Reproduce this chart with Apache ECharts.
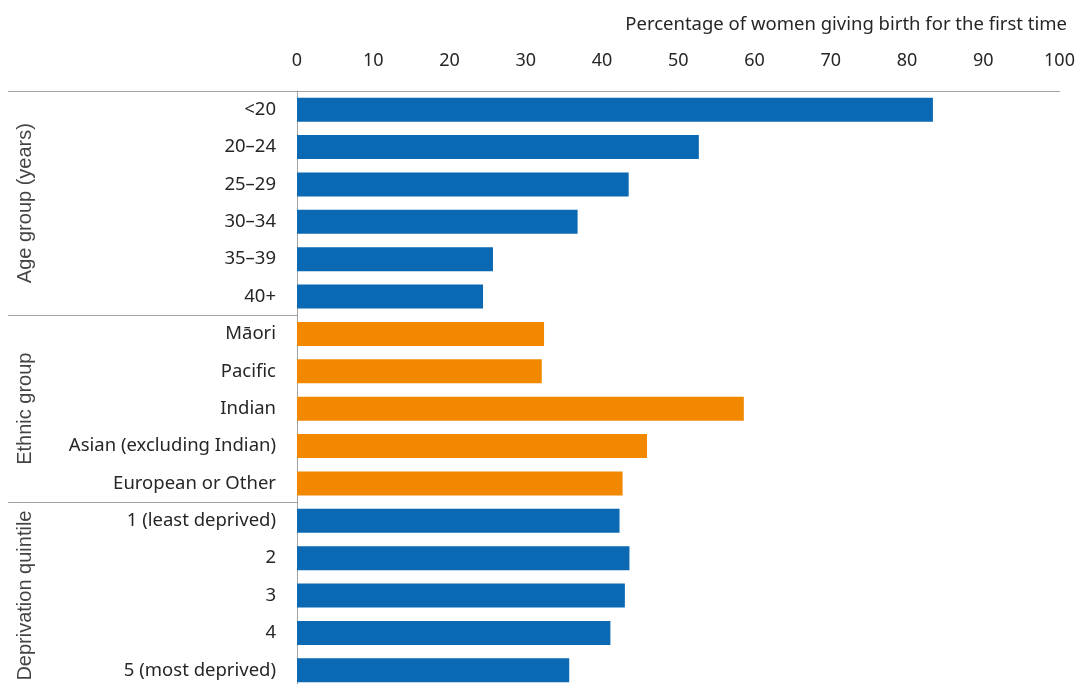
<!DOCTYPE html>
<html>
<head>
<meta charset="utf-8">
<script src="https://cdn.jsdelivr.net/npm/echarts@6/dist/echarts.min.js"></script>
<style>
  html, body { margin: 0; padding: 0; background: #fff; }
  #chart { width: 1079px; height: 684px; }
</style>
</head>
<body>
<div id="chart"></div>
<script>
// 数据
var ageLabels = ['<20', '20–24', '25–29', '30–34', '35–39', '40+']
var ageValues = [83.4, 52.7, 43.5, 36.8, 25.7, 24.4]
var ethnicLabels = ['Māori', 'Pacific', 'Indian', 'Asian (excluding Indian)', 'European or Other']
var ethnicValues = [32.4, 32.1, 58.6, 45.9, 42.7]
var deprivLabels = ['1 (least deprived)', '2', '3', '4', '5 (most deprived)']
var deprivValues = [42.3, 43.6, 43.0, 41.1, 35.7]
var groupNames = ['Age group (years)', 'Ethnic group', 'Deprivation quintile']
var xMin = 0
var xMax = 100
var xStep = 10

var groups = [
  { name: groupNames[0], labels: ageLabels, values: ageValues, color: '#0b69b3' },
  { name: groupNames[1], labels: ethnicLabels, values: ethnicValues, color: '#f18800' },
  { name: groupNames[2], labels: deprivLabels, values: deprivValues, color: '#0b69b3' }
]

var categories = []
var barData = []
var boundaries = [] // 分组分隔线
var groupTitles = []
var count = 0
groups.forEach(function (g) {
  boundaries.push(count)
  groupTitles.push({ value: [0, count + g.labels.length / 2], name: g.name })
  g.labels.forEach(function (l, i) {
    categories.push(l)
    barData.push({ value: g.values[i], itemStyle: { color: g.color } })
  })
  count += g.labels.length
})

var font = 'Noto Sans'
var fontSize = 18.5
var textColor = '#262626'
var lineColor = '#a3a3a3'

var chart = echarts.init(document.getElementById('chart'))
var option = {
  animation: false,
  title: {
    text: 'Percentage of women giving birth for the first time',
    right: 7,
    top: 10,
    textStyle: { fontFamily: font, fontSize: fontSize, fontWeight: 'normal', color: textColor }
  },
  // 图表区域，底部超出画布
  grid: [
    { left: 297, right: 19.5, top: 91, height: 598, outerBoundsMode: 'none', containLabel: false },
    { left: 8, width: 289, top: 91, height: 598, outerBoundsMode: 'none', containLabel: false }
  ],
  xAxis: [
    {
      gridIndex: 0,
      type: 'value',
      position: 'top',
      min: xMin,
      max: xMax,
      interval: xStep,
      axisLine: { show: true, lineStyle: { color: lineColor, width: 1 } },
      axisTick: { show: false },
      splitLine: { show: false },
      axisLabel: { margin: 21, fontFamily: font, fontSize: 18, color: textColor }
    },
    { gridIndex: 1, type: 'value', min: 0, max: 1, show: false }
  ],
  yAxis: [
    {
      gridIndex: 0,
      type: 'category',
      inverse: true,
      data: categories,
      axisLine: { show: true, lineStyle: { color: lineColor, width: 1 } },
      axisTick: { show: false },
      axisLabel: { margin: 21, fontFamily: font, fontSize: fontSize, color: textColor }
    },
    { gridIndex: 1, type: 'value', min: 0, max: categories.length, inverse: true, show: false }
  ],
  series: [
    {
      type: 'bar',
      xAxisIndex: 0,
      yAxisIndex: 0,
      barWidth: 24,
      data: barData
    },
    {
      // 分组标题 + 分隔线
      type: 'scatter',
      xAxisIndex: 1,
      yAxisIndex: 1,
      symbolSize: 0,
      silent: true,
      label: {
        show: true,
        position: 'inside',
        rotate: 90,
        offset: [0, 17],
        formatter: '{b}',
        fontFamily: 'Liberation Sans',
        fontSize: 20,
        color: '#141414'
      },
      data: groupTitles,
      markLine: {
        silent: true,
        symbol: 'none',
        label: { show: false },
        lineStyle: { color: lineColor, width: 1, type: 'solid' },
        data: boundaries.map(function (b) { return { yAxis: b } })
      }
    }
  ]
}
chart.setOption(option)
</script>
</body>
</html>
